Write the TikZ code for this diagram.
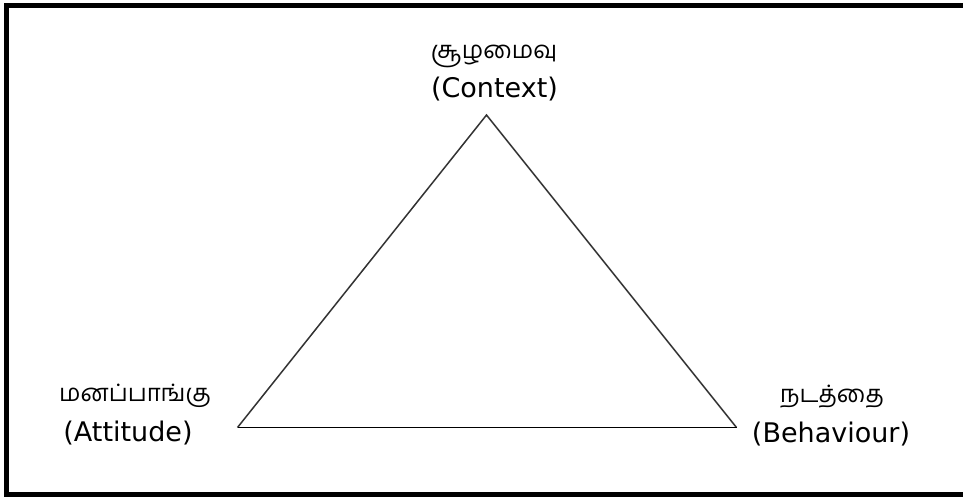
\documentclass[tikz,border=0pt]{standalone}
\usepackage{fontspec}
\setmainfont{DejaVu Sans}
\newfontfamily\tamilfont[Script=Tamil]{Hind Madurai}
\begin{document}
\begin{tikzpicture}[x=1pt,y=-1pt,
  en/.style={font=\fontsize{27}{30}\selectfont, inner sep=0pt, anchor=center},
  ta/.style={font=\tamilfont\fontsize{24}{28}\selectfont, inner sep=0pt, anchor=center},
  side/.style={draw=black!80, line width=1.5pt}]
\useasboundingbox (0,0) rectangle (963,500);
\fill[white] (0,0) rectangle (963,500);
\draw[line width=5pt, line cap=butt, line join=miter] (963,5.5) -- (6.5,5.5) -- (6.5,494.5) -- (963,494.5);
\coordinate (top) at (486.5,115);
\coordinate (bl) at (237.5,427.5);
\coordinate (br) at (736.5,427.5);
\draw[side, line join=miter] (bl) -- (top) -- (br);
\draw[black, line width=1.8pt] (bl) -- (br);
\node[ta] (cta) at (494,56) {சூழமைவு};
\node[en] (cen) at (494.5,89) {(Context)};
\node[ta] (ata) at (135,396) {மனப்பாங்கு};
\node[en] (aen) at (128,433) {(Attitude)};
\node[ta] (bta) at (832,397) {நடத்தை};
\node[en] (ben) at (831,434) {(Behaviour)};
\end{tikzpicture}
\end{document}
